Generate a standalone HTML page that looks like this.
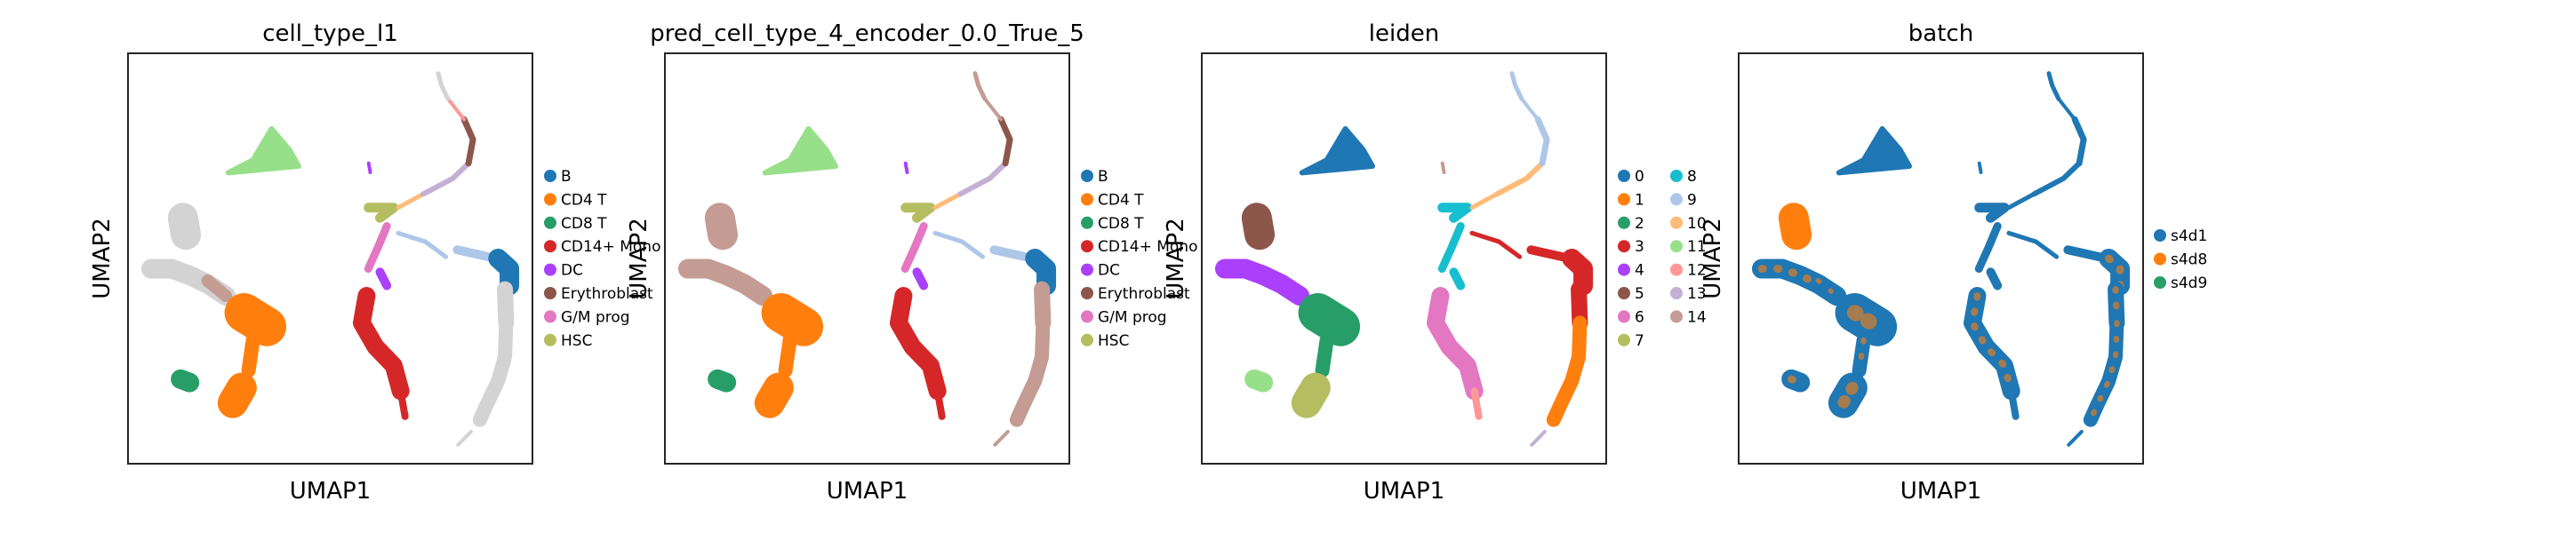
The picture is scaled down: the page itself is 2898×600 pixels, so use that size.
<!DOCTYPE html>
<html><head><meta charset="utf-8">
<style>
html,body{margin:0;padding:0;background:#fff;}
svg{display:block;}
text{font-family:"DejaVu Sans","Liberation Sans",sans-serif;fill:#000;}
</style></head>
<body>
<svg id="fig" width="2898" height="600" viewBox="0 0 2898 600" xmlns="http://www.w3.org/2000/svg"></svg>
<script>
// UMAP coordinates (axis-fraction units 0-100) of cluster skeletons
const triShape = [[35.5,81.6],[39.9,76.5],[42.2,72.5],[24.8,70.9],[30.9,74.0]];
const segDcLine = [[59.5,73.2],[59.9,71.0]];
const segLeftTop = [[13.6,59.9],[14.3,55.8]];
const segLeftBand = [[5.7,47.5],[10.8,47.5],[15.2,45.9],[19.7,43.8],[24.2,40.9]];
const segTan = [[19.7,44.6],[24.2,40.9]];
const segOrangeBlob = [[28.7,36.8],[34.3,33.4]];
const segOrangeStem = [[30.9,30.1],[29.8,22.7]];
const segOrangeLow = [[28.1,18.5],[25.9,14.8]];
const segCd8 = [[13.0,20.6],[15.2,19.8]];
const segRedA = [[59.0,40.9],[57.8,34.3],[61.2,28.5],[65.7,23.9],[67.4,17.7]];
const segRedB = [[67.4,17.7],[68.5,11.5]];
const segHsc = [[59.5,62.4],[65.7,62.4],[62.3,59.9]];
const segProg = [[64.0,57.9],[61.7,52.5],[59.4,47.5]];
const segDc = [[62.3,46.7],[64.0,43.4]];
const segTrajLow = [[66.8,62.4],[73.0,65.7]];
const segTrajMid = [[73.0,65.7],[80.3,69.5],[84.2,73.2]];
const segTrajBrown = [[84.2,73.2],[85.3,79.0],[83.1,83.9]];
const segTrajPink = [[83.1,83.9],[79.1,88.9]];
const segTrajTop = [[79.1,88.9],[77.5,92.2],[76.7,95.1]];
const segBranch = [[66.8,56.2],[73.5,54.1],[78.6,50.4]];
const segLightBlue = [[81.4,52.1],[89.2,50.4]];
const segBblob = [[91.5,50.0],[94.3,47.5],[94.3,43.4]];
const segRightA = [[93.2,42.5],[93.5,34.3]];
const segRightB = [[93.5,34.3],[93.2,26.0],[91.5,20.2],[88.7,14.4],[87.0,10.7]];
const segTail = [[84.8,7.8],[81.6,4.6]];

const panelTitles = ["cell_type_l1","pred_cell_type_4_encoder_0.0_True_5","leiden","batch"];
const legendCellType = ["B","CD4 T","CD8 T","CD14+ Mono","DC","Erythroblast","G/M prog","HSC"];
const legendLeiden = ["0","1","2","3","4","5","6","7","8","9","10","11","12","13","14"];
const legendBatch = ["s4d1","s4d8","s4d9"];

// styles
const C = {blue:"#1f77b4",orange:"#ff7f0e",green:"#279e68",red:"#d62728",purple:"#aa40fc",brown:"#8c564b",pink:"#e377c2",olive:"#b5bd61",cyan:"#17becf",lblue:"#aec7e8",peach:"#ffbb78",lgreen:"#98df8a",lred:"#ff9896",lav:"#c5b0d5",tan:"#c49c94",gray:"#d3d3d3"};
const legendColorsCT = [C.blue,C.orange,C.green,C.red,C.purple,C.brown,C.pink,C.olive];
const legendColorsLeiden = [C.blue,C.orange,C.green,C.red,C.purple,C.brown,C.pink,C.olive,C.cyan,C.lblue,C.peach,C.lgreen,C.lred,C.lav,C.tan];
const legendColorsBatch = [C.blue,C.orange,C.green];

const segs = [
 ["leftBand",segLeftBand,22],["tan",segTan,14],["leftTop",segLeftTop,34],
 ["orangeBlob",segOrangeBlob,44],["orangeStem",segOrangeStem,16],["orangeLow",segOrangeLow,34],
 ["cd8",segCd8,22],["redA",segRedA,20],["redB",segRedB,8],["dcLine",segDcLine,4],
 ["hsc",segHsc,11],["prog",segProg,9],["dc",segDc,10],
 ["trajLow",segTrajLow,5],["trajMid",segTrajMid,6],["trajBrown",segTrajBrown,7],["trajPink",segTrajPink,4],["trajTop",segTrajTop,5],
 ["branch",segBranch,5],["lightBlue",segLightBlue,10],["bblob",segBblob,22],
 ["rightA",segRightA,18],["rightB",segRightB,16],["tail",segTail,4]
];
const colorsCT = {tri:C.lgreen,leftBand:C.gray,tan:C.tan,leftTop:C.gray,orangeBlob:C.orange,orangeStem:C.orange,orangeLow:C.orange,cd8:C.green,redA:C.red,redB:C.red,dcLine:C.purple,hsc:C.olive,prog:C.pink,dc:C.purple,trajLow:C.peach,trajMid:C.lav,trajBrown:C.brown,trajPink:C.lred,trajTop:C.gray,branch:C.lblue,lightBlue:C.lblue,bblob:C.blue,rightA:C.gray,rightB:C.gray,tail:C.gray};
const colorsPred = Object.assign({},colorsCT,{leftBand:C.tan,leftTop:C.tan,trajTop:C.tan,rightA:C.tan,rightB:C.tan,tail:C.tan,trajPink:C.tan});
const colorsLeiden = {tri:C.blue,leftBand:C.purple,tan:C.purple,leftTop:C.brown,orangeBlob:C.green,orangeStem:C.green,orangeLow:C.olive,cd8:C.lgreen,redA:C.pink,redB:C.lred,dcLine:C.tan,hsc:C.cyan,prog:C.cyan,dc:C.cyan,trajLow:C.peach,trajMid:C.peach,trajBrown:C.lblue,trajPink:C.lblue,trajTop:C.lblue,branch:C.red,lightBlue:C.red,bblob:C.red,rightA:C.red,rightB:C.orange,tail:C.lav};
const colorsBatch = {};
Object.keys(colorsCT).forEach(k=>colorsBatch[k]=C.blue);
colorsBatch.leftTop=C.orange;

const NS="http://www.w3.org/2000/svg";
const svg=document.getElementById('fig');
function mk(tag,attrs,parent){const e=document.createElementNS(NS,tag);for(const k in attrs)e.setAttribute(k,attrs[k]);(parent||svg).appendChild(e);return e;}

const panelLefts=[144,748,1352,1956];
const axW=455, axTop=60, axH=462;
const palettes=[colorsCT,colorsPred,colorsLeiden,colorsBatch];

panelLefts.forEach((L,pi)=>{
  const sx=v=>L+v/100*axW;
  const sy=v=>axTop+axH-v/100*axH;
  const g=mk('g',{});
  
  
  const pal=palettes[pi];
  const tri=mk('polygon',{points:triShape.map(p=>sx(p[0])+','+sy(p[1])).join(' '),fill:pal.tri,stroke:pal.tri,'stroke-width':6,'stroke-linejoin':'round'},g);
  
  
  segs.forEach(s=>{
    const pl=mk('polyline',{points:s[1].map(p=>sx(p[0])+','+sy(p[1])).join(' '),fill:'none',stroke:pal[s[0]],'stroke-width':s[2],'stroke-linecap':'round','stroke-linejoin':'round'},g);
    
    
    if(pi===3 && s[0]!=='leftTop' && s[2]>=14){
      const sp=mk('polyline',{points:s[1].map(p=>sx(p[0])+','+sy(p[1])).join(' '),fill:'none',stroke:C.orange,'stroke-width':Math.max(2,s[2]*0.4),'stroke-dasharray':'1.5 16','stroke-linecap':'round',opacity:0.6},g);
      
      
    }
  });
  const fr=mk('rect',{x:L,y:axTop,width:axW,height:axH,fill:'none',stroke:'#262626','stroke-width':2},g);
  
  
  const t=mk('text',{x:L+axW/2,y:46,'text-anchor':'middle','font-size':26},g);
  t.textContent=panelTitles[pi];
  
  
  const xl=mk('text',{x:L+axW/2,y:561,'text-anchor':'middle','font-size':26},g);
  xl.textContent='UMAP1';
  
  
  const yl=mk('text',{x:0,y:0,'text-anchor':'middle','font-size':26,transform:'translate('+(L-21)+','+(axTop+axH/2)+') rotate(-90)'},g);
  yl.textContent='UMAP2';
  
  
});

function legend(labels,colors,x0,yStart,step,perCol,colStep){
  labels.forEach((lab,i)=>{
    const col=Math.floor(i/perCol), row=i%perCol;
    const cx=x0+col*colStep, cy=yStart+row*step;
    const g=mk('g',{});
    
    
    mk('circle',{cx:cx,cy:cy,r:7,fill:colors[i]},g);
    const t=mk('text',{x:cx+12,y:cy+6,'font-size':17},g);
    t.textContent=lab;
  });
}
legend(legendCellType,legendColorsCT,619,198,26.4,8,0);
legend(legendCellType,legendColorsCT,1223,198,26.4,8,0);
legend(legendLeiden,legendColorsLeiden,1827,198,26.4,8,59);
legend(legendBatch,legendColorsBatch,2430,265,26.5,3,0);
</script>
</body></html>
